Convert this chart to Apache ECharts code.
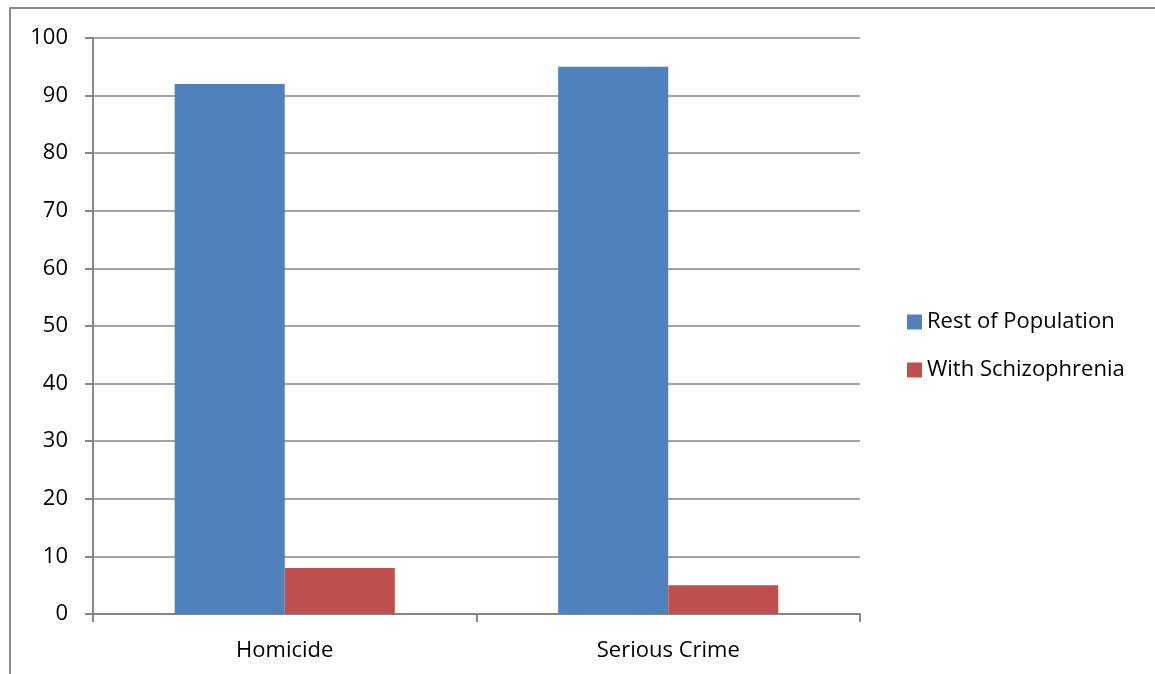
<!DOCTYPE html>
<html>
<head>
<meta charset="utf-8">
<script src="https://cdn.jsdelivr.net/npm/echarts@6/dist/echarts.min.js"></script>
<style>
  html, body { margin: 0; padding: 0; background: #fff; }
  #chart { width: 1155px; height: 674px; }
</style>
</head>
<body>
<div id="chart"></div>
<script>
const categories = ['Homicide', 'Serious Crime'];
const restOfPopulation = [92, 95];
const withSchizophrenia = [8, 5];
const seriesNames = ['Rest of Population', 'With Schizophrenia'];

const chart = echarts.init(document.getElementById('chart'), null, { renderer: 'canvas' });

const font = 'Open Sans, Liberation Sans, sans-serif';

chart.setOption({
  animation: false,
  textStyle: { fontFamily: font },
  graphic: [
    {
      type: 'rect',
      shape: { x: 10, y: 8, width: 1160, height: 700 },
      style: { fill: 'none', stroke: '#8c8c8c', lineWidth: 2 }
    }
  ],
  grid: { left: 93, right: 295, top: 38, bottom: 60, containLabel: false },
  legend: {
    orient: 'vertical',
    left: 902,
    top: 306,
    itemWidth: 15,
    itemHeight: 15,
    itemGap: 26,
    icon: 'rect',
    textStyle: { fontSize: 22, color: '#000', fontFamily: font },
    data: seriesNames
  },
  xAxis: {
    type: 'category',
    data: categories,
    axisLine: { lineStyle: { color: '#868686', width: 2 } },
    axisTick: { show: true, length: 8, lineStyle: { color: '#868686', width: 2 } },
    axisLabel: { fontSize: 22, color: '#000', margin: 26 }
  },
  yAxis: {
    type: 'value',
    min: 0,
    max: 100,
    interval: 10,
    axisLine: { show: true, lineStyle: { color: '#868686', width: 2 } },
    axisTick: { show: true, length: 8, lineStyle: { color: '#868686', width: 2 } },
    axisLabel: { fontSize: 22, color: '#000', margin: 25 },
    splitLine: { lineStyle: { color: '#868686', width: 1.5 } }
  },
  series: [
    {
      name: seriesNames[0],
      type: 'bar',
      data: restOfPopulation,
      itemStyle: { color: '#4f81bd' },
      barGap: '0%',
      barCategoryGap: '42.6%'
    },
    {
      name: seriesNames[1],
      type: 'bar',
      data: withSchizophrenia,
      itemStyle: { color: '#c0504d' }
    }
  ]
});
</script>
</body>
</html>
